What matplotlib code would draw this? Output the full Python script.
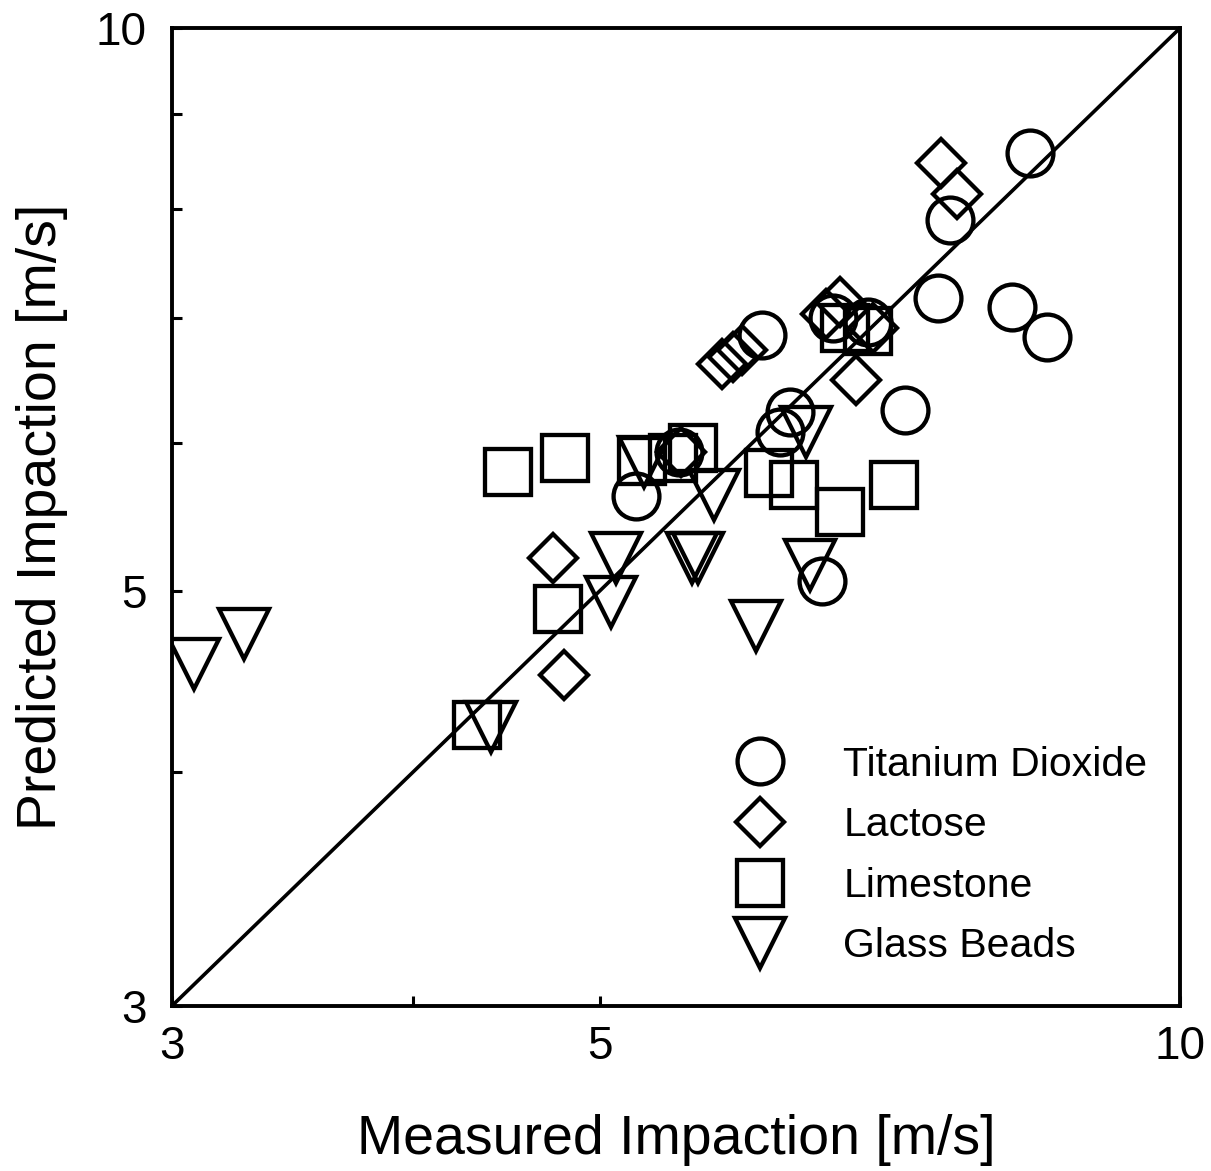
import matplotlib
matplotlib.use("Agg")
import matplotlib.pyplot as plt
from matplotlib.ticker import FixedLocator, NullFormatter, FixedFormatter

plt.rcParams['font.family'] = ['Liberation Sans', 'DejaVu Sans']

# Titanium Dioxide (circles)
tio2_x = [8.36, 7.60, 7.49, 8.18, 8.53, 6.07, 6.61, 6.89, 6.28, 6.20, 7.20, 5.22, 6.52, 5.50]
tio2_y = [8.57, 7.90, 7.17, 7.09, 6.84, 6.85, 7.00, 6.96, 6.23, 6.08, 6.25, 5.62, 5.06, 5.93]

# Lactose (diamonds)
lact_x = [7.52, 7.66, 6.55, 6.66, 6.93, 6.79, 5.79, 5.86, 5.93, 5.51, 4.73, 4.79]
lact_y = [8.47, 8.15, 7.03, 7.14, 6.91, 6.48, 6.61, 6.67, 6.73, 5.93, 5.21, 4.51]

# Limestone (squares)
lime_x = [4.48, 4.80, 5.26, 5.46, 5.59, 4.76, 4.32, 6.12, 6.31, 6.66, 7.11, 6.70, 6.89]
lime_y = [5.79, 5.89, 5.87, 5.89, 5.96, 4.89, 4.24, 5.78, 5.70, 5.51, 5.70, 6.91, 6.89]

# Glass Beads (triangles)
glass_x = [3.08, 3.27, 4.39, 5.10, 5.07, 5.58, 5.62, 5.73, 6.03, 6.40, 6.43, 5.27]
glass_y = [4.57, 4.74, 4.23, 5.21, 4.93, 5.21, 5.21, 5.63, 4.79, 6.08, 5.16, 5.86]

lims = [3, 10]

fig = plt.figure(figsize=(12.11, 11.71), dpi=100)
ax = fig.add_axes([0.142, 0.141, 0.8324, 0.835])

ax.plot(lims, lims, color='black', lw=2.6, zorder=1)

style = dict(linestyle='none', mfc='none', mec='black', mew=3.1)
ax.plot(tio2_x, tio2_y, marker='o', ms=33, label='Titanium Dioxide', **style)
ax.plot(lact_x, lact_y, marker='D', ms=24, label='Lactose', **style)
ax.plot(lime_x, lime_y, marker='s', ms=33.5, label='Limestone', **style)
ax.plot(glass_x, glass_y, marker='v', ms=36, label='Glass Beads', **style)

ax.set_xscale('log')
ax.set_yscale('log')
ax.set_xlim(lims)
ax.set_ylim(lims)

for axis in (ax.xaxis, ax.yaxis):
    axis.set_major_locator(FixedLocator([3, 5, 10]))
    axis.set_major_formatter(FixedFormatter(['3', '5', '10']))
    axis.set_minor_formatter(NullFormatter())
ax.xaxis.set_minor_locator(FixedLocator([4]))
ax.yaxis.set_minor_locator(FixedLocator([4, 6, 7, 8, 9]))

ax.tick_params(which='both', direction='in', length=7, width=2.2, labelsize=33,
               top=False, right=False)
ax.tick_params(axis='x', which='major', pad=14)
ax.tick_params(axis='y', which='major', pad=18)

for sp in ax.spines.values():
    sp.set_linewidth(2.8)

ax.set_xlabel('Measured Impaction [m/s]', fontsize=40, labelpad=32)
ax.set_ylabel('Predicted Impaction [m/s]', fontsize=40, labelpad=20)

ax.legend(loc='upper left', bbox_to_anchor=(0.543, 0.266), frameon=False,
          fontsize=29.5, numpoints=1, handlelength=2.0, handletextpad=1.03,
          labelspacing=0.55, borderpad=0, borderaxespad=0)

fig.savefig('out.png', dpi=100)
